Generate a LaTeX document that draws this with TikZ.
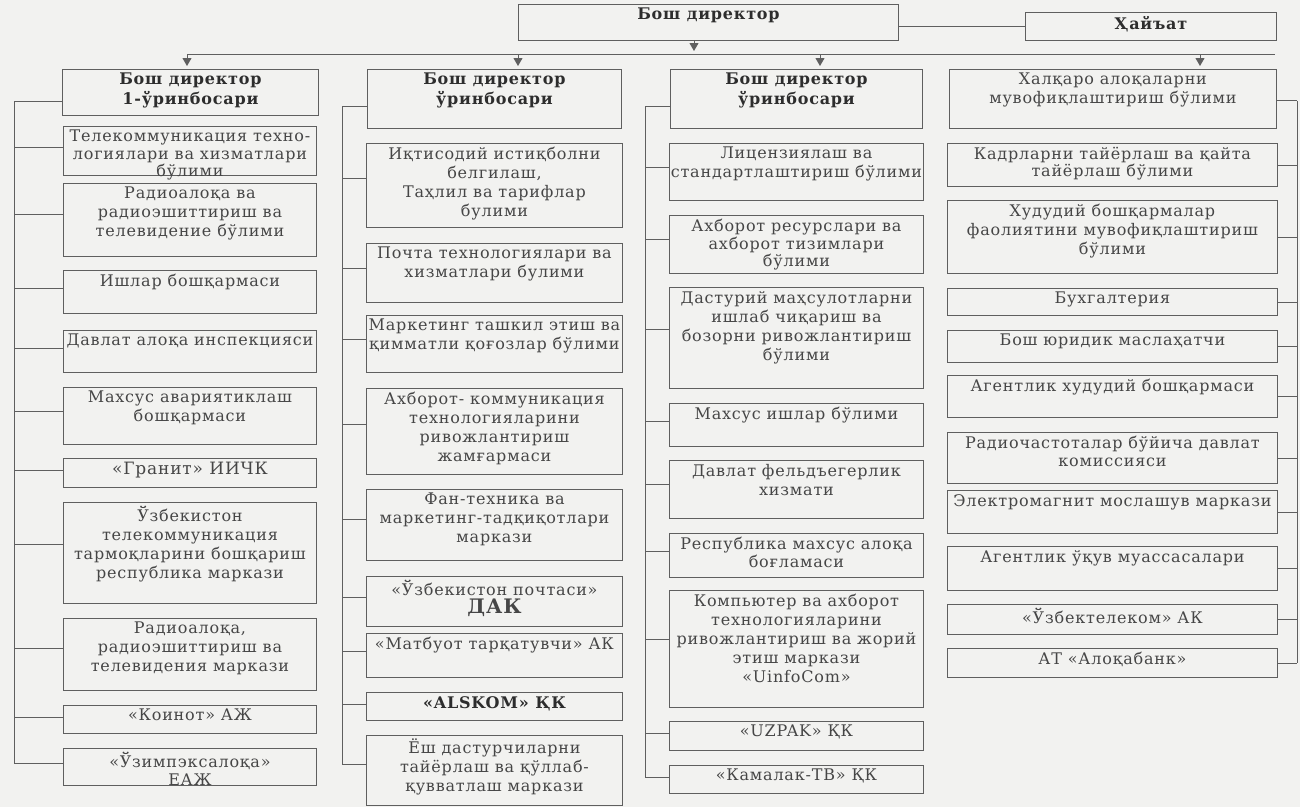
\documentclass[tikz,border=0pt]{standalone}
\usepackage{fontspec}
\setmainfont[LetterSpace=5]{DejaVu Serif}
\usetikzlibrary{arrows.meta,calc}
\definecolor{bgc}{RGB}{242,242,240}
\definecolor{linec}{RGB}{95,95,95}
\definecolor{txtc}{RGB}{70,70,70}
\definecolor{hdc}{RGB}{45,45,45}
\tikzset{
  ubx/.style={draw=linec, line width=0.9pt, inner sep=0pt},
  utx/.style={text=txtc, align=center, inner sep=0pt, font=\fontsize{16}{19}\selectfont},
  tightx/.style={utx, font=\fontsize{16}{17.5}\selectfont},
  hdx/.style={utx, text=hdc, font=\bfseries\fontsize{16}{20}\selectfont},
  bigx/.style={utx, font=\fontsize{17}{19}\selectfont},
  ln/.style={draw=linec, line width=0.9pt},
  arr/.style={ln, -{Triangle[width=9pt,length=8pt]}, shorten >=3pt},
}
% name, x, y, w, h, text style, text
\newcommand\ubox[7]{%
  \node[ubx, minimum width=#4, minimum height=#5, anchor=north west] (#1) at (#2,#3) {};
  \node[#6, anchor=north] (#1t) at ([yshift=-4pt]#1.north) {#7};}
\newcommand\stubL[3][0.42]{%
  \path ($(#2.north west)!#1!(#2.south west)$) coordinate (#2s);
  \draw[ln] (#2s) -- (#2s -| #3);}
\newcommand\stubR[3][0.42]{%
  \path ($(#2.north east)!#1!(#2.south east)$) coordinate (#2s);
  \draw[ln] (#2s) -- (#2s -| #3);}
\begin{document}
\begin{tikzpicture}[x=1pt,y=-1pt]
\fill[bgc] (0,0) rectangle (1300,807);
\useasboundingbox (0,0) rectangle (1300,807);

% top level
\ubox{top}{518}{4}{380}{36}{hdx}{Бош директор}
\ubox{hay}{1025}{12}{251}{28}{hdx}{Ҳайъат}
\draw[ln] (top.east |- hay.west) -- (hay.west);

\coordinate (tj) at (694,54);
\coordinate (hl) at (187,54);
\coordinate (hr) at (1275,54);
\draw[ln] (hl) -- (hr);
\draw[arr] (tj |- top.south) -- (tj);

% column heads
\ubox{c1h}{62}{69}{256}{46}{hdx}{Бош директор\\1-ўринбосари}
\ubox{c2h}{367}{69}{254}{59}{hdx}{Бош директор\\ўринбосари}
\ubox{c3h}{670}{69}{252}{59}{hdx}{Бош директор\\ўринбосари}
\ubox{c4h}{949}{69}{327}{59}{utx}{Халқаро алоқаларни\\мувофиқлаштириш бўлими}

\coordinate (a1) at (187,54);
\coordinate (a2) at (518,54);
\coordinate (a3) at (820,54);
\coordinate (a4) at (1200,54);
\draw[arr] (a1) -- (a1 |- c1h.north);
\draw[arr] (a2) -- (a2 |- c2h.north);
\draw[arr] (a3) -- (a3 |- c3h.north);
\draw[arr] (a4) -- (a4 |- c4h.north);

% buses
\coordinate (bus1) at (14,0);
\coordinate (bus2) at (342,0);
\coordinate (bus3) at (645,0);
\coordinate (bus4) at (1297,0);

% column 1
\ubox{c1b1}{63}{126}{253}{49}{tightx}{Телекоммуникация техно-\\логиялари ва хизматлари\\бўлими}
\ubox{c1b2}{63}{183}{253}{73}{utx}{Радиоалоқа ва\\радиоэшиттириш ва\\телевидение бўлими}
\ubox{c1b3}{63}{270}{253}{43}{utx}{Ишлар бошқармаси}
\ubox{c1b4}{63}{330}{253}{42}{utx}{Давлат алоқа инспекцияси}
\ubox{c1b5}{63}{387}{253}{57}{utx}{Махсус авариятиклаш\\бошқармаси}
\ubox{c1b6}{63}{458}{253}{29}{bigx}{«Гранит» ИИЧК}
\ubox{c1b7}{63}{502}{253}{101}{utx}{Ўзбекистон\\телекоммуникация\\тармоқларини бошқариш\\республика маркази}
\ubox{c1b8}{63}{618}{253}{72}{utx}{Радиоалоқа,\\радиоэшиттириш ва\\телевидения маркази}
\ubox{c1b9}{63}{705}{253}{28}{utx}{«Коинот» АЖ}
\ubox{c1b10}{63}{748}{253}{37}{tightx}{«Ўзимпэксалоқа»\\ЕАЖ}

\stubL[0.7]{c1h}{bus1}
\foreach \b in {c1b1,c1b2,c1b3,c1b4,c1b5,c1b6,c1b7,c1b8,c1b9,c1b10}{\stubL{\b}{bus1}}
\draw[ln] (c1hs -| bus1) -- (c1b10s -| bus1);

% column 2
\ubox{c2b1}{366}{143}{256}{84}{utx}{Иқтисодий истиқболни\\белгилаш,\\Таҳлил ва тарифлар\\булими}
\ubox{c2b2}{366}{243}{256}{59}{utx}{Почта технологиялари ва\\хизматлари булими}
\ubox{c2b3}{366}{315}{256}{57}{utx}{Маркетинг ташкил этиш ва\\қимматли қоғозлар бўлими}
\ubox{c2b4}{366}{388}{256}{86}{utx}{Ахборот- коммуникация\\технологияларини\\ривожлантириш\\жамғармаси}
\ubox{c2b5}{366}{489}{256}{71}{utx}{Фан-техника ва\\маркетинг-тадқиқотлари\\маркази}
\ubox{c2b6}{366}{576}{256}{50}{tightx}{«Ўзбекистон почтаси»\\{\bfseries\fontsize{20}{21}\selectfont ДАК}}
\ubox{c2b7}{366}{633}{256}{44}{utx}{«Матбуот тарқатувчи» АК}
\ubox{c2b8}{366}{692}{256}{28}{hdx}{«ALSKOM» ҚК}
\ubox{c2b9}{366}{735}{256}{70}{utx}{Ёш дастурчиларни\\тайёрлаш ва қўллаб-\\қувватлаш маркази}

\stubL[0.63]{c2h}{bus2}
\foreach \b in {c2b1,c2b2,c2b3,c2b4,c2b5,c2b6,c2b7,c2b8,c2b9}{\stubL{\b}{bus2}}
\draw[ln] (c2hs -| bus2) -- (c2b9s -| bus2);

% column 3
\ubox{c3b1}{669}{143}{254}{57}{utx}{Лицензиялаш ва\\стандартлаштириш бўлими}
\ubox{c3b2}{669}{215}{254}{58}{tightx}{Ахборот ресурслари ва\\ахборот тизимлари\\бўлими}
\ubox{c3b3}{669}{287}{254}{101}{utx}{Дастурий маҳсулотларни\\ишлаб чиқариш ва\\бозорни ривожлантириш\\бўлими}
\ubox{c3b4}{669}{403}{254}{43}{utx}{Махсус ишлар бўлими}
\ubox{c3b5}{669}{460}{254}{58}{utx}{Давлат фельдъегерлик\\хизмати}
\ubox{c3b6}{669}{533}{254}{44}{tightx}{Республика махсус алоқа\\боғламаси}
\ubox{c3b7}{669}{590}{254}{117}{utx}{Компьютер ва ахборот\\технологияларини\\ривожлантириш ва жорий\\этиш маркази\\«UinfoCom»}
\ubox{c3b8}{669}{721}{254}{29}{utx}{«UZPAK» ҚК}
\ubox{c3b9}{669}{765}{254}{28}{utx}{«Камалак-ТВ» ҚК}

\stubL[0.63]{c3h}{bus3}
\foreach \b in {c3b1,c3b2,c3b3,c3b4,c3b5,c3b6,c3b7,c3b8,c3b9}{\stubL{\b}{bus3}}
\draw[ln] (c3hs -| bus3) -- (c3b9s -| bus3);

% column 4
\ubox{c4b2}{947}{143}{330}{43}{tightx}{Кадрларни тайёрлаш ва қайта\\тайёрлаш бўлими}
\ubox{c4b3}{947}{200}{330}{73}{utx}{Худудий бошқармалар\\фаолиятини мувофиқлаштириш\\бўлими}
\ubox{c4b4}{947}{288}{330}{27}{utx}{Бухгалтерия}
\ubox{c4b5}{947}{330}{330}{32}{utx}{Бош юридик маслаҳатчи}
\ubox{c4b6}{947}{375}{330}{42}{utx}{Агентлик худудий бошқармаси}
\ubox{c4b7}{947}{432}{330}{51}{tightx}{Радиочастоталар бўйича давлат\\комиссияси}
\ubox{c4b8}{947}{490}{330}{43}{utx}{Электромагнит мослашув маркази}
\ubox{c4b9}{947}{546}{330}{44}{utx}{Агентлик ўқув муассасалари}
\ubox{c4b10}{947}{604}{330}{30}{utx}{«Ўзбектелеком» АК}
\ubox{c4b11}{947}{648}{330}{29}{utx}{АТ «Алоқабанк»}

\stubR[0.53]{c4h}{bus4}
\foreach \b in {c4b2,c4b3,c4b4,c4b5,c4b6,c4b7,c4b8,c4b9,c4b10,c4b11}{\stubR[0.5]{\b}{bus4}}
\draw[ln] (c4hs -| bus4) -- (c4b11s -| bus4);

\end{tikzpicture}
\end{document}
